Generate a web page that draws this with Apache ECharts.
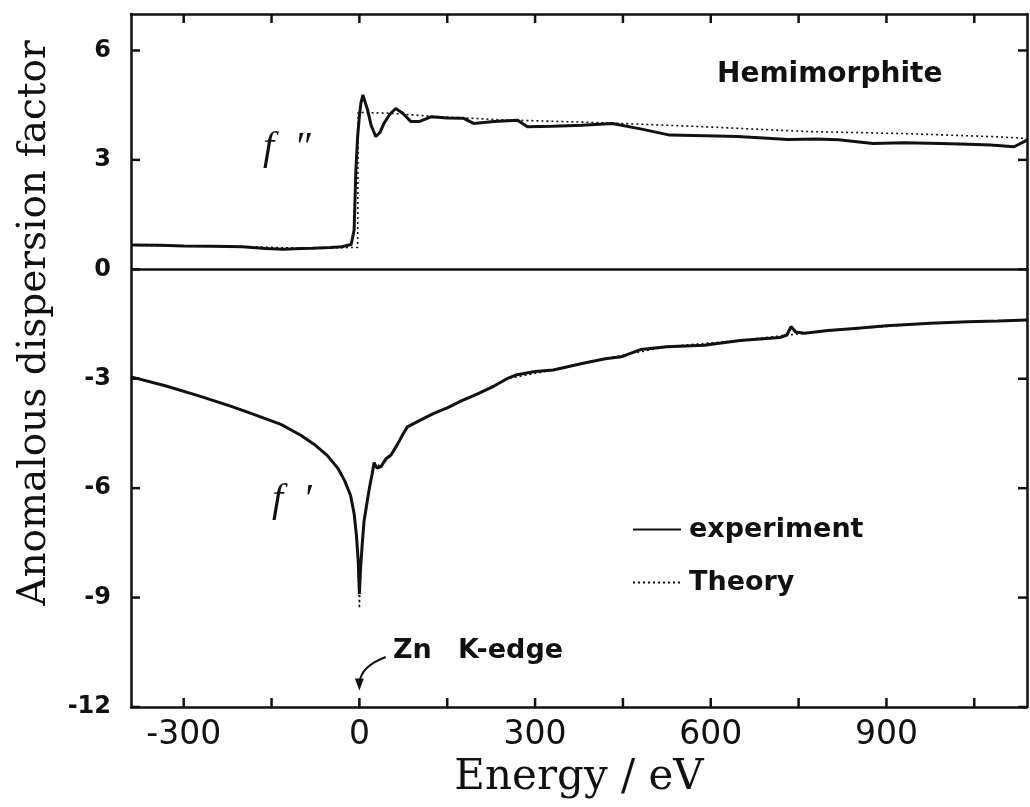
<!DOCTYPE html>
<html>
<head>
<meta charset="utf-8">
<script src="https://cdn.jsdelivr.net/npm/echarts@6/dist/echarts.min.js"></script>
<style>
  html, body { margin: 0; padding: 0; background: #fff; }
  #chart { width: 1030px; height: 807px; }
</style>
</head>
<body>
<div id="chart"></div>
<script>
// Energy relative to the Zn K-edge (eV) and anomalous dispersion factors
const fppExpEnergy = [-390, -340, -300, -250, -200, -160, -130, -100, -80, -50, -30, -14, -9, -6, -3, 0, 2.5, 6, 14, 20, 28, 35, 42, 52, 62, 74, 88, 102, 122, 150, 178, 195, 230, 270, 287, 330, 380, 432, 480, 530, 590, 645, 690, 732, 780, 818, 877, 930, 992, 1040, 1078, 1118, 1140];
const fppExp = [0.67, 0.66, 0.64, 0.63, 0.62, 0.57, 0.55, 0.57, 0.58, 0.60, 0.62, 0.68, 1.08, 2.72, 3.64, 4.20, 4.55, 4.78, 4.37, 3.95, 3.64, 3.75, 4.00, 4.25, 4.41, 4.28, 4.05, 4.05, 4.18, 4.15, 4.14, 4.00, 4.05, 4.09, 3.91, 3.92, 3.95, 4.00, 3.85, 3.68, 3.66, 3.64, 3.60, 3.56, 3.57, 3.55, 3.45, 3.47, 3.45, 3.43, 3.41, 3.36, 3.54];

const fppTheoryEnergy = [-390, -200, -100, -3, -2, 50, 120, 240, 414, 587, 761, 934, 1078, 1140];
const fppTheory = [0.66, 0.62, 0.58, 0.60, 4.30, 4.28, 4.20, 4.10, 4.02, 3.91, 3.78, 3.72, 3.64, 3.59];

const fpExpEnergy = [-390, -330, -270, -220, -185, -134, -100, -77, -55, -37, -25, -15, -9, -5, -2, 0, 2, 5, 8, 11, 16, 20, 22, 25, 30, 37, 45, 54, 65, 75, 82, 105, 127, 150, 175, 201, 230, 252, 267, 300, 331, 380, 420, 447, 480, 525, 589, 650, 718, 730, 737, 745, 760, 800, 846, 900, 975, 1039, 1090, 1140];
const fpExp = [-2.95, -3.20, -3.49, -3.75, -3.95, -4.25, -4.55, -4.80, -5.10, -5.45, -5.80, -6.20, -6.70, -7.30, -8.00, -8.90, -8.20, -7.50, -6.90, -6.60, -6.10, -5.75, -5.60, -5.30, -5.45, -5.41, -5.20, -5.09, -4.80, -4.50, -4.32, -4.13, -3.95, -3.80, -3.60, -3.42, -3.20, -3.00, -2.90, -2.80, -2.76, -2.58, -2.45, -2.40, -2.20, -2.12, -2.08, -1.95, -1.87, -1.80, -1.57, -1.72, -1.75, -1.68, -1.62, -1.55, -1.48, -1.44, -1.42, -1.39];

const fpTheoryEnergy = [-390, -330, -270, -220, -185, -134, -100, -77, -55, -37, -25, -15, -9, -5, -2, 0, 2, 5, 8, 11, 16, 20, 25, 37, 54, 82, 105, 127, 150, 201, 252, 331, 420, 525, 650, 800, 975, 1140];
const fpTheory = [-2.95, -3.20, -3.49, -3.75, -3.95, -4.25, -4.55, -4.80, -5.10, -5.45, -5.80, -6.20, -6.70, -7.30, -8.10, -9.30, -8.20, -7.50, -6.90, -6.60, -6.10, -5.75, -5.30, -5.41, -5.09, -4.32, -4.13, -3.95, -3.80, -3.42, -3.00, -2.76, -2.45, -2.12, -1.95, -1.68, -1.48, -1.39];

// Edge marker: arrow from the "Zn K-edge" label down to E = 0
const edgeArrowFrom = [45, -10.63];
const edgeArrowTo = [0, -11.55];

const xRange = [-390, 1140];
const yRange = [-12, 7];
const xTicks = [-300, -150, 0, 150, 300, 450, 600, 750, 900, 1050];
const xTickLabels = [-300, 0, 300, 600, 900];
const yTicks = [-12, -9, -6, -3, 0, 3, 6];

const pairs = (xs, ys) => xs.map((x, i) => [x, ys[i]]);

const ink = '#111';
const tickLen = 9;
const frameLine = () => ({ show: true, onZero: false, lineStyle: { color: ink, width: 2.5 } });

const expLine = { color: ink, width: 3 };
const theoryLine = { color: ink, width: 1.6, type: [2, 3] };
const labelFont = { fontFamily: 'DejaVu Sans', fontWeight: 'bold', fill: ink };

function renderEdgeArrow(params, api) {
  const s = api.coord([api.value(0), api.value(1)]);
  const e = api.coord([api.value(2), api.value(3)]);
  return {
    type: 'group',
    children: [
      {
        type: 'bezierCurve',
        shape: { x1: s[0], y1: s[1], x2: e[0], y2: e[1] - 8, cpx1: e[0] + 2, cpy1: s[1] + 9 },
        style: { stroke: ink, lineWidth: 2, fill: null }
      },
      {
        type: 'polygon',
        shape: { points: [[e[0] - 4.5, e[1] - 12], [e[0] + 4.5, e[1] - 12], [e[0], e[1]]] },
        style: { fill: ink }
      }
    ]
  };
}

const textGraphics = [
  {
    type: 'text', x: 35, y: 323, rotation: Math.PI / 2,
    style: { text: 'Anomalous dispersion factor', fontFamily: 'DejaVu Serif', fontSize: 39, fill: ink, align: 'center', verticalAlign: 'middle' }
  },
  {
    type: 'text', x: 717, y: 75,
    style: Object.assign({ text: 'Hemimorphite', fontSize: 28, align: 'left', verticalAlign: 'middle' }, labelFont)
  },
  {
    type: 'text', x: 263, y: 148,
    style: { text: 'f  \u2033', fontFamily: 'Liberation Serif', fontStyle: 'italic', fontSize: 40, fill: ink, align: 'left', verticalAlign: 'middle' }
  },
  {
    type: 'text', x: 272, y: 500,
    style: { text: 'f  \u2032', fontFamily: 'Liberation Serif', fontStyle: 'italic', fontSize: 40, fill: ink, align: 'left', verticalAlign: 'middle' }
  },
  {
    type: 'text', x: 393, y: 651,
    style: Object.assign({ text: 'Zn', fontSize: 27, align: 'left', verticalAlign: 'middle' }, labelFont)
  },
  {
    type: 'text', x: 458, y: 651,
    style: Object.assign({ text: 'K-edge', fontSize: 27, align: 'left', verticalAlign: 'middle' }, labelFont)
  }
];

const chart = echarts.init(document.getElementById('chart'), null, { renderer: 'canvas' });

chart.setOption({
  animation: false,
  backgroundColor: '#fff',
  grid: { left: 131, right: 3, top: 14, bottom: 100 },
  xAxis: [
    {
      type: 'value', min: xRange[0], max: xRange[1], position: 'bottom',
      axisLine: frameLine(),
      axisTick: { show: false },
      axisLabel: { customValues: xTickLabels, fontFamily: 'DejaVu Sans', fontSize: 33, color: ink, margin: 12 },
      splitLine: { show: false },
      name: 'Energy / eV', nameLocation: 'middle', nameGap: 46,
      nameTextStyle: { fontFamily: 'DejaVu Serif', fontSize: 42, color: ink }
    },
    {
      type: 'value', min: xRange[0], max: xRange[1], position: 'top',
      axisLine: frameLine(),
      axisTick: { show: false },
      axisLabel: { show: false },
      splitLine: { show: false }
    }
  ],
  yAxis: [
    {
      type: 'value', min: yRange[0], max: yRange[1], position: 'left',
      axisLine: frameLine(),
      axisTick: { show: false },
      axisLabel: { customValues: yTicks, fontFamily: 'DejaVu Sans', fontWeight: 'bold', fontSize: 24, color: ink, margin: 20 },
      splitLine: { show: false }
    },
    {
      type: 'value', min: yRange[0], max: yRange[1], position: 'right',
      axisLine: frameLine(),
      axisTick: { show: false },
      axisLabel: { show: false },
      splitLine: { show: false }
    }
  ],
  legend: {
    orient: 'vertical', left: 627, top: 511,
    itemWidth: 48, itemHeight: 20, itemGap: 26,
    itemStyle: { opacity: 0 },
    textStyle: { fontFamily: 'DejaVu Sans', fontWeight: 'bold', fontSize: 27, color: ink, padding: [0, 0, 0, 3] },
    data: ['experiment', 'Theory']
  },
  series: [
    {
      name: 'Theory', type: 'line', data: pairs(fppTheoryEnergy, fppTheory),
      symbol: 'none', lineStyle: theoryLine, itemStyle: { color: ink }, z: 2
    },
    {
      name: 'Theory', type: 'line', data: pairs(fpTheoryEnergy, fpTheory),
      symbol: 'none', lineStyle: theoryLine, itemStyle: { color: ink }, z: 2
    },
    {
      name: 'experiment', type: 'line', data: pairs(fppExpEnergy, fppExp),
      symbol: 'none', lineStyle: expLine, itemStyle: { color: ink }, z: 3,
      markLine: {
        silent: true, symbol: 'none', label: { show: false },
        lineStyle: { color: ink, width: 2.5, type: 'solid' },
        data: [{ yAxis: 0 }]
      }
    },
    {
      name: 'experiment', type: 'line', data: pairs(fpExpEnergy, fpExp),
      symbol: 'none', lineStyle: expLine, itemStyle: { color: ink }, z: 3
    },
    {
      name: 'edge marker', type: 'custom', silent: true, z: 5,
      data: [edgeArrowFrom.concat(edgeArrowTo)], renderItem: renderEdgeArrow
    }
  ],
  graphic: textGraphics
});

// Inward tick marks on all four sides, placed through the axes' own scales
const px = v => chart.convertToPixel({ xAxisIndex: 0 }, v);
const py = v => chart.convertToPixel({ yAxisIndex: 0 }, v);
const tickMark = (x1, y1, x2, y2) => ({
  type: 'line', z: 50, silent: true,
  shape: { x1, y1, x2, y2 },
  style: { stroke: ink, lineWidth: 2.5 }
});
const yBottom = py(yRange[0]);
const yTop = py(yRange[1]);
const xLeft = px(xRange[0]);
const xRight = px(xRange[1]);
const tickGraphics = [];
xTicks.forEach(v => {
  const x = px(v);
  tickGraphics.push(tickMark(x, yBottom, x, yBottom - tickLen));
  tickGraphics.push(tickMark(x, yTop, x, yTop + tickLen));
});
yTicks.forEach(v => {
  const y = py(v);
  tickGraphics.push(tickMark(xLeft, y, xLeft + tickLen, y));
  tickGraphics.push(tickMark(xRight, y, xRight - tickLen, y));
});

chart.setOption({ graphic: textGraphics.concat(tickGraphics) });
</script>
</body>
</html>
